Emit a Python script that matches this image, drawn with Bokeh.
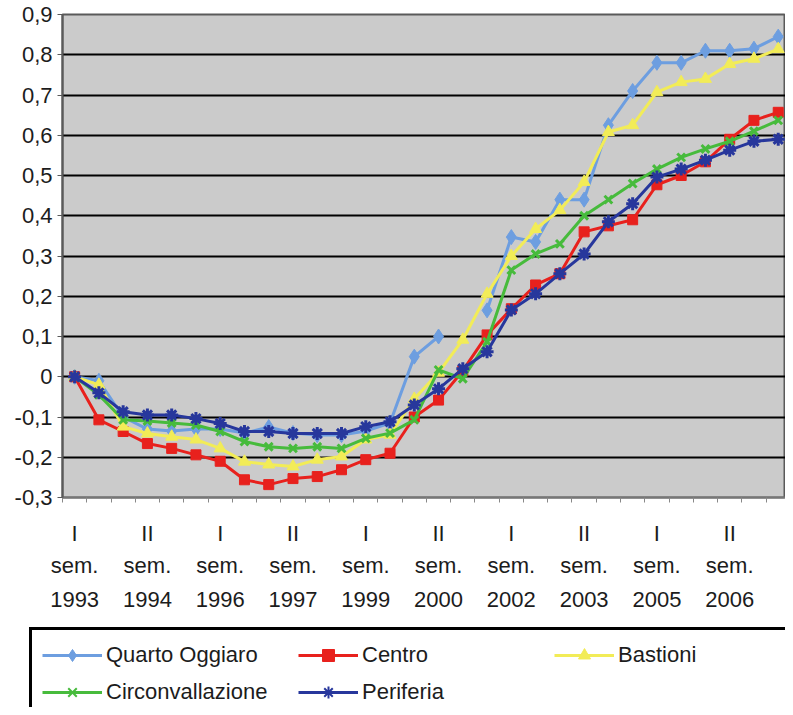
from bokeh.plotting import figure
from bokeh.models import (ColumnDataSource, FixedTicker, LinearAxis, CustomJSTickFormatter,
                          Legend, LegendItem, Range1d)
from bokeh.embed import file_html
from bokeh.resources import INLINE

# ---------------- data ----------------
periods = list(range(30))  # I sem 1993 ... II sem 2007, one point per semester
label_pos = [0, 3, 6, 9, 12, 15, 18, 21, 24, 27]
sem_labels = ["I", "II", "I", "II", "I", "II", "I", "II", "I", "II"]
sem_word = ["sem."] * 10
year_labels = ["1993", "1994", "1996", "1997", "1999", "2000", "2002", "2003", "2005", "2006"]
y_ticks = [-0.3, -0.2, -0.1, 0.0, 0.1, 0.2, 0.3, 0.4, 0.5, 0.6, 0.7, 0.8, 0.9]

nan = float("nan")
quarto_oggiaro = [0, -0.01, -0.10, -0.13, -0.135, -0.13, -0.13, -0.14, -0.125, -0.14,
                  -0.145, -0.145, -0.135, -0.115, 0.05, 0.10, nan, 0.165, 0.347, 0.335,
                  0.44, 0.44, 0.625, 0.71, 0.78, 0.78, 0.81, 0.81, 0.815, 0.845]
centro = [0, -0.107, -0.136, -0.166, -0.178, -0.194, -0.21, -0.256, -0.268, -0.253,
          -0.248, -0.231, -0.206, -0.19, -0.10, -0.058, 0.015, 0.104, 0.169, 0.228,
          0.256, 0.36, 0.375, 0.39, 0.477, 0.50, 0.534, 0.59, 0.637, 0.657]
bastioni = [0, -0.02, -0.124, -0.141, -0.149, -0.156, -0.178, -0.211, -0.218, -0.223,
            -0.206, -0.198, -0.156, -0.144, -0.055, 0.01, 0.092, 0.206, 0.30, 0.367,
            0.414, 0.484, 0.608, 0.625, 0.707, 0.732, 0.74, 0.777, 0.79, 0.814]
circonvallazione = [0, -0.045, -0.107, -0.11, -0.115, -0.12, -0.136, -0.161, -0.174, -0.178,
                    -0.174, -0.178, -0.153, -0.14, -0.107, 0.017, -0.005, 0.087, 0.265, 0.305,
                    0.33, 0.40, 0.44, 0.48, 0.516, 0.545, 0.566, 0.585, 0.61, 0.637]
periferia = [0, -0.04, -0.087, -0.095, -0.095, -0.104, -0.116, -0.136, -0.136, -0.141,
             -0.141, -0.141, -0.124, -0.112, -0.07, -0.03, 0.02, 0.062, 0.166, 0.206,
             0.256, 0.305, 0.385, 0.43, 0.496, 0.516, 0.538, 0.563, 0.585, 0.59]

series = [
    ("Quarto Oggiaro", quarto_oggiaro, "#6d9ee0", "diamond", 15),
    ("Centro", centro, "#e8211d", "square", 10),
    ("Bastioni", bastioni, "#f2ec57", "triangle", 12),
    ("Circonvallazione", circonvallazione, "#47bb3c", "x", 11),
    ("Periferia", periferia, "#27379c", "asterisk", 13),
]

FONT = "Liberation Sans"
FS = "22px"
TXT = "#1c1c1c"

p = figure(width=785, height=620, x_range=Range1d(-0.5, 29.3), y_range=Range1d(-0.3, 0.9),
           output_backend="svg", toolbar_location=None,
           min_border_left=62, min_border_top=14, min_border_right=0, min_border_bottom=123,
           background_fill_color="#cbcbcb", border_fill_color="white",
           outline_line_color="#5a5a5a", outline_line_width=2)

# y axis
yax = p.yaxis[0]
yax.ticker = FixedTicker(ticks=y_ticks)
yax.formatter = CustomJSTickFormatter(
    code="if (Math.abs(tick) < 1e-9) { return '0'; } return tick.toFixed(1).replace('.', ',');")
yax.axis_line_color = "#5a5a5a"
yax.axis_line_width = 2
yax.major_tick_line_color = "#5a5a5a"
yax.major_tick_out = 5
yax.major_tick_in = 0
yax.minor_tick_line_color = None
yax.major_label_standoff = 5
yax.major_label_text_font = FONT
yax.major_label_text_font_size = FS
yax.major_label_text_color = TXT

p.ygrid.ticker = FixedTicker(ticks=y_ticks)
p.ygrid.grid_line_color = "black"
p.ygrid.grid_line_width = 2
p.xgrid.grid_line_color = None

# x axis (three stacked label rows)
xax = p.xaxis[0]
xax.ticker = FixedTicker(ticks=label_pos, minor_ticks=[i - 0.5 for i in range(31)])
xax.major_label_overrides = dict(zip(label_pos, sem_labels))
xax.axis_line_color = "#777777"
xax.axis_line_width = 2
xax.major_tick_line_color = None
xax.major_tick_out = 0
xax.major_tick_in = 0
xax.minor_tick_line_color = "#888888"
xax.minor_tick_out = 5
xax.minor_tick_in = 0
xax.major_label_standoff = 18
xax.major_label_text_font = FONT
xax.major_label_text_font_size = FS
xax.major_label_text_color = TXT

for labels, standoff in ((sem_word, 4), (year_labels, 11)):
    ax = LinearAxis(ticker=FixedTicker(ticks=label_pos),
                    major_label_overrides=dict(zip(label_pos, labels)),
                    axis_line_color=None, major_tick_line_color=None, minor_tick_line_color=None,
                    major_tick_out=0, major_tick_in=0, major_label_standoff=standoff,
                    major_label_text_font=FONT, major_label_text_font_size=FS,
                    major_label_text_color=TXT)
    p.add_layout(ax, "below")

# legend lives in its own strip below the chart (separate root, so its frame is the full strip)
lg = figure(width=785, height=87, output_backend="svg", toolbar_location=None,
            x_range=Range1d(0, 1), y_range=Range1d(0, 1),
            x_axis_location=None, y_axis_location=None,
            min_border_left=0, min_border_right=0, min_border_top=0, min_border_bottom=0,
            outline_line_color=None, background_fill_color="white", border_fill_color="white")
lg.xgrid.grid_line_color = None
lg.ygrid.grid_line_color = None

items = []
for name, vals, color, marker, size in series:
    src = ColumnDataSource(dict(x=periods, y=vals))
    p.line("x", "y", source=src, line_color=color, line_width=3)
    if marker in ("x", "asterisk"):
        p.scatter("x", "y", source=src, marker=marker, size=size, line_color=color, line_width=3)
    else:
        p.scatter("x", "y", source=src, marker=marker, size=size, fill_color=color,
                  line_color=color, line_width=1)
    # legend sample glyphs: a single missing point, only the styling is used
    key = ColumnDataSource(dict(x=[nan], y=[nan]))
    l1 = lg.line("x", "y", source=key, line_color=color, line_width=3)
    if marker in ("x", "asterisk"):
        l2 = lg.scatter("x", "y", source=key, marker=marker, size=size - 3, line_color=color,
                        line_width=2)
    else:
        l2 = lg.scatter("x", "y", source=key, marker=marker, size=size - 3, fill_color=color,
                        line_color=color, line_width=1)
    items.append(LegendItem(label=name, renderers=[l1, l2]))

legend = Legend(items=items, location=(29, -13), orientation="horizontal", ncols=3,
                label_width=185, glyph_width=60, glyph_height=30, label_height=30,
                label_standoff=4, spacing=7, padding=10, margin=0,
                border_line_color="black", border_line_width=3, border_line_alpha=1,
                background_fill_color="white", background_fill_alpha=1,
                label_text_font=FONT, label_text_font_size=FS, label_text_color=TXT)
lg.add_layout(legend, "center")

open("out.html", "w").write(file_html([p, lg], INLINE))
